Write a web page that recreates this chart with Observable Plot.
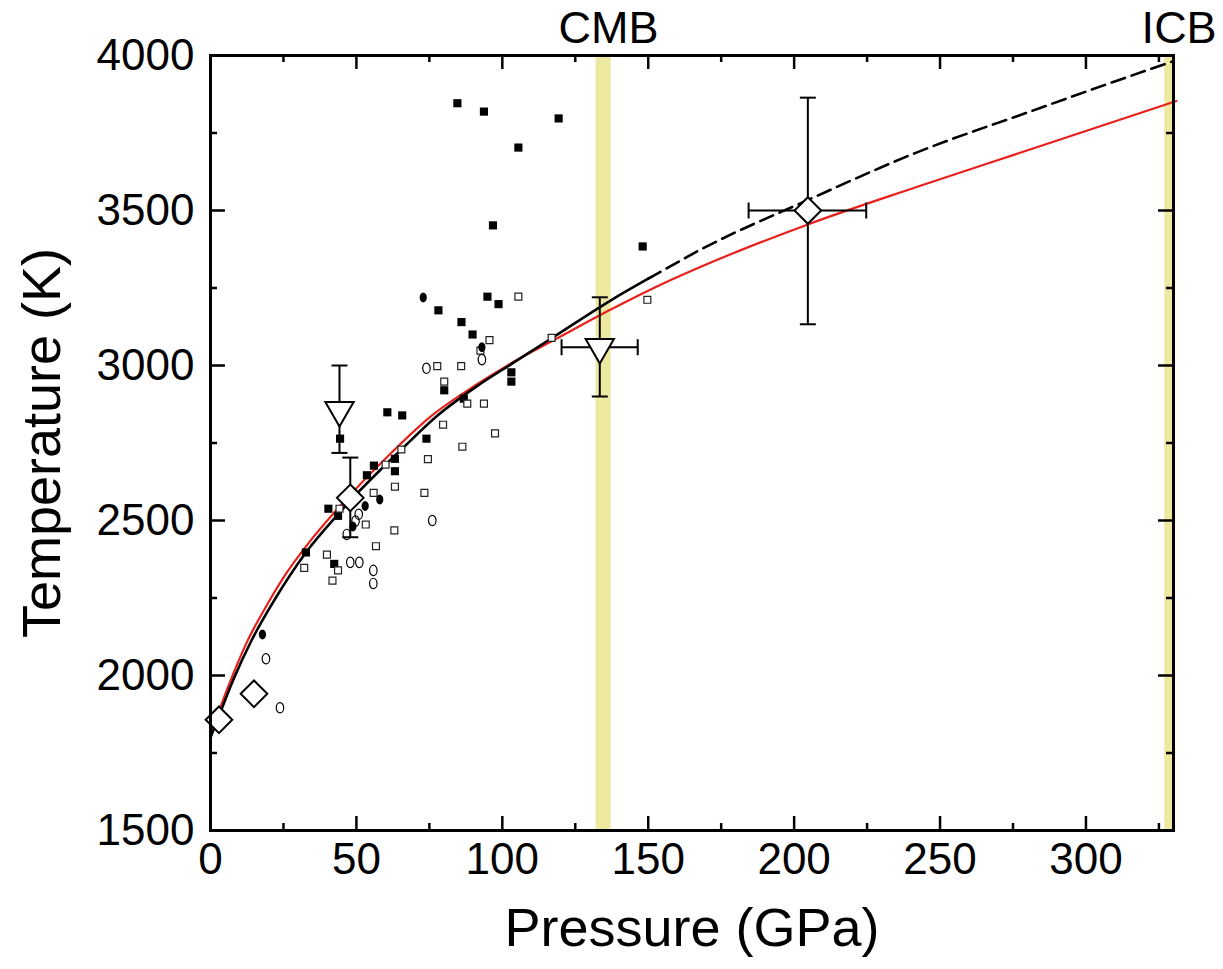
<!DOCTYPE html>
<html><head><meta charset="utf-8">
<script src="https://cdn.jsdelivr.net/npm/d3@7"></script>
<script src="https://cdn.jsdelivr.net/npm/@observablehq/plot@0.6"></script>
<style>body{margin:0;background:#fff}</style>
</head><body><div id="chart"></div>
<script>
// ---- data (pressure GPa, temperature K) ----
const xMajor = [0, 50, 100, 150, 200, 250, 300];
const xMinor = [25, 75, 125, 175, 225, 275, 325];
const yMajor = [1500, 2000, 2500, 3000, 3500, 4000];
const yMinor = [1750, 2250, 2750, 3250, 3750];

const bands = [
  {name: "CMB", x1: 132.1, x2: 137.3},
  {name: "ICB", x1: 327, x2: 330}
];

const filledSquares = [
  [84.6,3846],[93.7,3819],[119.3,3797],[105.5,3703],[96.8,3452],[94.9,3222],[98.7,3198],
  [78.1,3178],[86.0,3140],[89.8,3100],[103.1,2978],[103.1,2948],[80.1,2920],[86.8,2893],
  [60.6,2849],[65.7,2839],[44.4,2764],[74.0,2764],[148.1,3384],[56.0,2677],[53.6,2646],
  [63.2,2699],[63.2,2659],[40.4,2538],[43.7,2515],[32.7,2397],[42.4,2360]
];
const filledCircles = [
  [72.9,3219],[93.0,3059],[48.8,2573],[58.0,2568],[53.0,2547],[48.8,2481],[17.8,2132]
];
const openSquares = [
  [105.5,3222],[95.6,3082],[92.5,3048],[77.7,2998],[85.9,2998],[80.1,2948],[116.9,3089],
  [88.0,2877],[93.7,2877],[79.7,2809],[97.5,2781],[86.3,2738],[74.5,2698],[65.4,2729],
  [60.0,2680],[149.7,3212],[55.9,2589],[63.2,2609],[73.3,2589],[44.2,2538],[53.2,2487],
  [63.0,2468],[56.7,2417],[39.9,2390],[32.1,2347],[43.7,2339],[41.8,2306]
];
const openCircles = [
  [74.0,2991],[93.0,3019],[50.8,2520],[49.7,2498],[46.7,2455],[76.0,2500],[47.9,2365],
  [51.0,2365],[55.8,2339],[55.8,2297],[19.0,2054],[23.8,1896]
];
const diamonds = [[2.9,1857],[14.9,1941],[47.9,2573],[204.7,3500]];
const triangles = [[44.2,2856],[133.4,3059]];

// error bars
const errT = [
  {p: 47.9, lo: 2446, hi: 2703},
  {p: 204.7, lo: 3133, hi: 3864},
  {p: 44.2, lo: 2718, hi: 3000},
  {p: 133.4, lo: 2900, hi: 3220}
];
const errP = [
  {t: 3500, lo: 184.4, hi: 224.7},
  {t: 3059, lo: 120.3, hi: 146.4}
];

// melting curves
const blackCurve = [
  [0,1800],[3,1872],[8,1990],[14,2112],[21.8,2242],[32.7,2397],[43.7,2520],[50,2585],
  [60,2680],[65.4,2729],[78,2840],[91.6,2935],[104,3010],[116.9,3088],[137.5,3212],[150,3280],
  [151.9,3290],[168.4,3376],[205,3535],[241.7,3686],[282,3823],[311.6,3922],[330,3982]
];
const blackSplit = 150; // solid below, dashed above (extrapolation)
const redCurve = [
  [0,1805],[3.4,1898],[8,2010],[12.6,2110],[19.5,2230],[26,2330],[33,2420],[45,2553],
  [60,2700],[75,2832],[91.6,2941],[105,3018],[116.9,3078],[137.5,3182],[154.6,3262],
  [168.4,3320],[204.7,3455],[241.7,3575],[282.9,3703],[331,3853]
];

// ---- custom symbols ----
const ellipse = {draw(ctx, size) {
  const r = Math.sqrt(size / Math.PI), rx = r * 0.72, ry = r, k = 0.5523;
  ctx.moveTo(rx, 0);
  ctx.bezierCurveTo(rx, ry*k, rx*k, ry, 0, ry);
  ctx.bezierCurveTo(-rx*k, ry, -rx, ry*k, -rx, 0);
  ctx.bezierCurveTo(-rx, -ry*k, -rx*k, -ry, 0, -ry);
  ctx.bezierCurveTo(rx*k, -ry, rx, -ry*k, rx, 0);
  ctx.closePath();
}};
const capH = {draw(ctx, size) { const r = Math.sqrt(size / Math.PI); ctx.moveTo(-r, 0); ctx.lineTo(r, 0); }};
const capV = {draw(ctx, size) { const r = Math.sqrt(size / Math.PI); ctx.moveTo(0, -r); ctx.lineTo(0, r); }};

const W = 1223, H = 969, mL = 210, mR = 50, mT = 55, mB = 139;
const pw = W - mL - mR, ph = H - mT - mB;
const px = d => d[0], py = d => d[1];

const chart = Plot.plot({
  width: W, height: H,
  marginLeft: mL, marginRight: mR, marginTop: mT, marginBottom: mB,
  style: {fontFamily: "Liberation Sans, Arial, sans-serif", background: "#fff", color: "#000"},
  x: {domain: [0, 330]},
  y: {domain: [1500, 4000]},
  marks: [
    Plot.rect(bands, {x1: "x1", x2: "x2", fill: "#ede9a0"}),
    Plot.line(redCurve, {x: px, y: py, curve: "monotone-x", stroke: "#e8201c", strokeWidth: 2.2}),
    Plot.line(blackCurve.filter(d => d[0] <= blackSplit), {x: px, y: py, curve: "monotone-x", stroke: "#000", strokeWidth: 2.6}),
    Plot.line(blackCurve.filter(d => d[0] >= blackSplit), {x: px, y: py, curve: "monotone-x", stroke: "#000", strokeWidth: 2.6, strokeDasharray: "14,7"}),
    Plot.dot(filledSquares, {x: px, y: py, symbol: "square", r: 4.6, fill: "#000", stroke: "none"}),
    Plot.dot(openSquares, {x: px, y: py, symbol: "square", r: 3.9, fill: "#fff", stroke: "#222", strokeWidth: 1.2}),
    Plot.dot(filledCircles, {x: px, y: py, symbol: ellipse, r: 5, fill: "#000", stroke: "none"}),
    Plot.dot(openCircles, {x: px, y: py, symbol: ellipse, r: 5.2, fill: "none", stroke: "#000", strokeWidth: 1.2}),
    Plot.ruleX(errT, {x: "p", y1: "lo", y2: "hi", stroke: "#000", strokeWidth: 2}),
    Plot.ruleY(errP, {y: "t", x1: "lo", x2: "hi", stroke: "#000", strokeWidth: 2}),
    Plot.dot(errT, {x: "p", y: "lo", symbol: capH, r: 8, fill: "none", stroke: "#000", strokeWidth: 2}),
    Plot.dot(errT, {x: "p", y: "hi", symbol: capH, r: 8, fill: "none", stroke: "#000", strokeWidth: 2}),
    Plot.dot(errP, {x: "lo", y: "t", symbol: capV, r: 8, fill: "none", stroke: "#000", strokeWidth: 2}),
    Plot.dot(errP, {x: "hi", y: "t", symbol: capV, r: 8, fill: "none", stroke: "#000", strokeWidth: 2}),
    Plot.dot(diamonds, {x: px, y: py, symbol: "diamond2", r: 12, fill: "#fff", stroke: "#000", strokeWidth: 2}),
    Plot.dot(triangles, {x: px, y: py, symbol: "triangle", rotate: 180, r: 10.5, fill: "#fff", stroke: "#000", strokeWidth: 2}),
    // frame and inward ticks
    Plot.frame({stroke: "#000", strokeWidth: 3}),
    Plot.tickX(xMajor, {x: d => d, insetTop: ph - 14, stroke: "#000", strokeWidth: 2.5}),
    Plot.tickX(xMinor, {x: d => d, insetTop: ph - 7, stroke: "#000", strokeWidth: 2.5}),
    Plot.tickX(xMajor, {x: d => d, insetBottom: ph - 14, stroke: "#000", strokeWidth: 2.5}),
    Plot.tickX(xMinor, {x: d => d, insetBottom: ph - 7, stroke: "#000", strokeWidth: 2.5}),
    Plot.tickY(yMajor, {y: d => d, insetRight: pw - 15, stroke: "#000", strokeWidth: 2.5}),
    Plot.tickY(yMinor, {y: d => d, insetRight: pw - 7, stroke: "#000", strokeWidth: 2.5}),
    Plot.tickY(yMajor, {y: d => d, insetLeft: pw - 15, stroke: "#000", strokeWidth: 2.5}),
    Plot.tickY(yMinor, {y: d => d, insetLeft: pw - 7, stroke: "#000", strokeWidth: 2.5}),
    // tick labels
    Plot.axisX({ticks: xMajor, tickSize: 0, tickPadding: 12, fontSize: 44, tickFormat: "d", label: null}),
    Plot.axisY({ticks: yMajor, tickSize: 0, tickPadding: 16, fontSize: 44, tickFormat: "d", label: null}),
    // axis titles
    Plot.text(["Pressure (GPa)"], {frameAnchor: "bottom", text: d => d, dy: 98, lineAnchor: "middle", textAnchor: "middle", fontSize: 54, fill: "#000"}),
    Plot.text(["Temperature (K)"], {frameAnchor: "left", text: d => d, dx: -168, rotate: -90, lineAnchor: "middle", textAnchor: "middle", fontSize: 54, fill: "#000"}),
    // band labels
    Plot.text(bands.slice(0, 1), {x: d => (d.x1 + d.x2) / 2, text: "name", frameAnchor: "top", dy: -27, dx: 5, lineAnchor: "middle", fontSize: 45, fill: "#000"}),
    Plot.text(bands.slice(1), {x: d => (d.x1 + d.x2) / 2, text: "name", frameAnchor: "top", dy: -27, dx: 10, lineAnchor: "middle", fontSize: 45, fill: "#000"})
  ]
});
document.getElementById("chart").appendChild(chart);
</script>
</body></html>
